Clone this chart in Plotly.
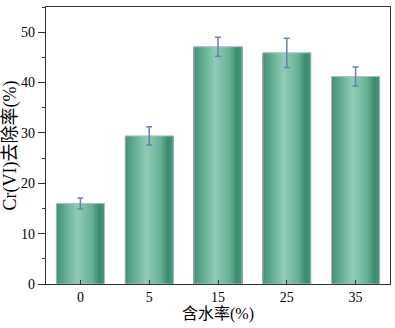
import plotly.graph_objects as go
from plotly.colors import sample_colorscale

categories = ["0", "5", "15", "25", "35"]
removal = [16.0, 29.4, 47.1, 45.9, 41.2]
errors = [1.1, 1.8, 1.9, 2.9, 1.9]
y_ticks = [0, 10, 20, 30, 40, 50]

x_title = "含水率(%)"
y_title = "Cr(VI)去除率(%)"

bar_width = 0.7
n_slices = 60
gradient = [
    [0.0, "#3f8e72"],
    [0.08, "#4e9c80"],
    [0.45, "#91ccb7"],
    [0.75, "#66b095"],
    [0.9, "#3c8a6d"],
    [1.0, "#489477"],
]

fig = go.Figure()
step = bar_width / n_slices
cols = sample_colorscale(gradient, [(i + 0.5) / n_slices for i in range(n_slices)])
for i, c in enumerate(cols):
    w = step * 2 if i < n_slices - 1 else step
    fig.add_trace(go.Bar(
        x=categories, y=removal,
        width=w, offset=-bar_width / 2 + i * step,
        marker=dict(color=c, line=dict(width=0)),
        showlegend=False, hoverinfo="skip",
    ))
# outline + error bars
fig.add_trace(go.Bar(
    x=categories, y=removal, width=bar_width,
    marker=dict(color="rgba(0,0,0,0)", line=dict(color="#aebcd8", width=1)),
    error_y=dict(type="data", array=errors, color="#6a80b0", thickness=1.5, width=3),
    showlegend=False,
))

font = "Liberation Serif, Times New Roman, Noto Sans CJK SC, serif"
fig.update_layout(
    width=395, height=328,
    margin=dict(l=46, r=5, t=7, b=44),
    paper_bgcolor="white", plot_bgcolor="white",
    barmode="overlay",
    font=dict(family=font, size=14, color="black"),
)
fig.update_xaxes(
    type="category", range=[-0.5, 4.5],
    showline=True, mirror=True, linecolor="#333", linewidth=1.2,
    ticks="inside", ticklen=4, tickcolor="#333", tickwidth=1,
    showgrid=False, zeroline=False,
    title=dict(text=x_title, font=dict(size=16), standoff=2),
    tickfont=dict(size=14),
)
fig.update_yaxes(
    range=[0, 55], tickvals=y_ticks,
    showline=True, mirror=True, linecolor="#333", linewidth=1.2,
    ticks="outside", ticklen=7, tickcolor="#333", tickwidth=1,
    minor=dict(dtick=5, ticks="outside", ticklen=3, tickcolor="#333"),
    showgrid=False, zeroline=False,
    title=dict(text=y_title, font=dict(size=18), standoff=1),
    tickfont=dict(size=14),
)
fig.write_html("out.html", config={"displayModeBar": False},
               post_script="document.body.style.margin='0';")
